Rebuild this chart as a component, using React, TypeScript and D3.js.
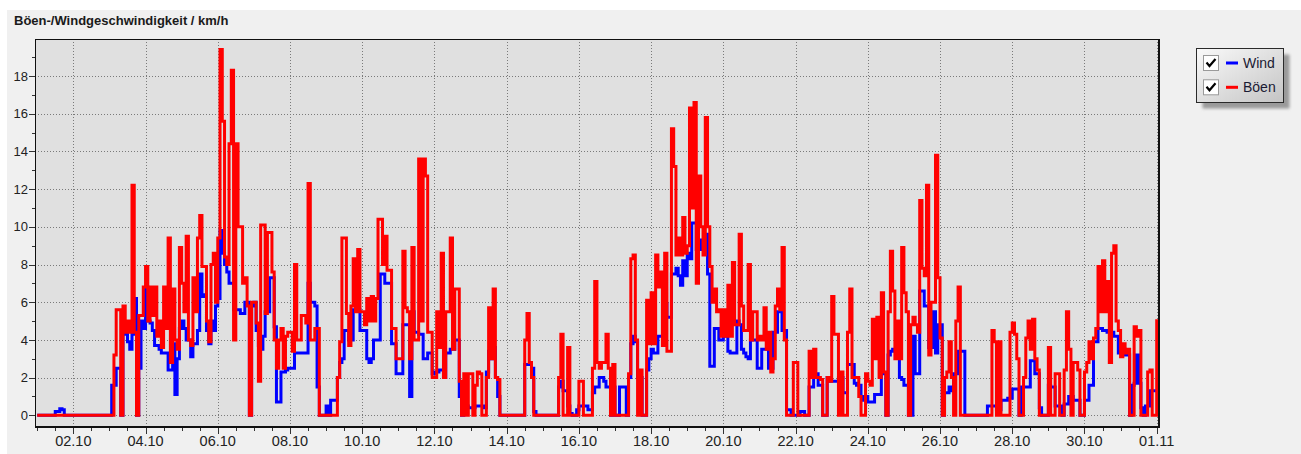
import React, { useRef, useEffect } from "react";
import * as d3 from "d3";

// 90-minute samples from 01.10 00:00, one row per day, km/h
const gust = [
  0, 0, 0, 0, 0, 0, 0, 0, 0, 0, 0, 0, 0, 0, 0, 0,
  0, 0, 0, 0, 0, 0, 0, 0, 0, 0, 0, 0, 0, 0, 0, 0,
  0, 0, 3.2, 5.6, 5.6, 0, 5.8, 4.4, 5, 4.4, 12.2, 4.4, 0, 5.3, 5.3, 6.8,
  7.9, 5, 6.8, 5.3, 6.8, 4.2, 5, 3.6, 6.8, 4.6, 9.4, 2.8, 6.7, 4, 3.5, 8.9,
  7, 5.5, 9.5, 4, 3.7, 7.3, 5.5, 9.4, 10.6, 7.9, 7.9, 5, 3.9, 8, 8.6, 6,
  9.4, 19.4, 15.6, 8.4, 8, 14.4, 18.3, 4, 14.4, 10, 10, 7, 7.3, 5.8, 0, 6,
  6, 4.9, 1.8, 10.1, 10.1, 5.4, 9.7, 9.7, 7.6, 4, 2.5, 4, 4.6, 2.5, 4.2, 4.4,
  4.4, 3.4, 8, 4, 4, 5.3, 5.3, 4.9, 12.3, 4, 4, 4.6, 4.6, 0, 0, 0,
  0, 0, 0, 0, 0, 2, 3.9, 9.4, 9.4, 5.4, 3.7, 5.8, 8.3, 5.5, 8.8, 5.5,
  5.5, 4.8, 6.2, 5, 6.3, 5, 6.2, 10.4, 10.4, 8, 9.5, 7.7, 7.7, 4.6, 4.6, 3,
  3, 3, 8.7, 5.7, 5.5, 3, 8.9, 4, 4, 13.6, 5, 13.6, 12.7, 4.4, 4.4, 2,
  2, 5.5, 3.6, 8.6, 2, 5.5, 5.5, 9.4, 3.5, 6.7, 6.7, 1.8, 0, 2.2, 0, 2.2,
  2.2, 0, 1.6, 2.3, 2.2, 0, 0, 2, 5.7, 3, 6.7, 2, 1.9, 0, 0, 0,
  0, 0, 0, 0, 0, 0, 0, 0, 4, 5.4, 2.8, 2, 0, 0, 0, 0,
  0, 0, 0, 0, 0, 0, 0, 2, 4.3, 0, 0, 3.6, 0, 0, 0, 0,
  1.8, 1.8, 0, 0, 0, 0, 2.5, 7.1, 2.8, 2.5, 2.8, 2.8, 4.3, 2.5, 0, 2.7,
  0, 0, 0, 0, 0, 0, 2.2, 8.3, 8.5, 4, 0, 2.4, 0, 0, 6.1, 3.8,
  6.5, 3.8, 8.5, 6.8, 7.6, 3.7, 8.6, 3.4, 3.4, 15.2, 13.2, 8.5, 9.4, 8.5, 10.5, 8.6,
  9, 16.3, 11, 16.6, 7, 12.7, 10, 8.5, 15.8, 10, 7.9, 6, 6.7, 5.5, 5.6, 4.2,
  5.6, 4.2, 6.9, 4.2, 8.1, 4.8, 4.8, 9.6, 5.8, 4.5, 4.5, 8, 4, 5.5, 5.5, 4,
  4.2, 4, 5.7, 3.5, 4.4, 2.3, 3, 5.8, 6.7, 5.6, 8.9, 4, 0, 0, 0, 2.8,
  2.8, 0, 0, 0, 0, 0, 3.4, 2, 3.5, 2, 2, 1.9, 0, 0, 2, 1.8,
  6.3, 4.3, 4.3, 0, 2.3, 0, 0, 4.4, 6.7, 2, 2, 2, 1, 0, 0, 2.2,
  1.8, 1.6, 5.1, 3, 5.2, 2, 6.5, 2.3, 0, 5.5, 8.7, 6.6, 3, 5, 3, 8.9,
  6.5, 5.5, 0, 4.8, 5.2, 4.8, 4.4, 11.4, 7.8, 7.4, 12.2, 3.2, 6, 6, 13.8, 7.3,
  4.1, 0, 2, 2.3, 3.9, 2, 0, 5, 6.8, 0, 0, 0, 0, 0, 0, 0,
  0, 0, 0, 0, 0, 0, 0, 4.5, 3.9, 0, 3.9, 0, 0, 0, 0, 4.4,
  4.9, 4.3, 3, 0, 0, 2, 4.1, 5, 3.5, 5.1, 3, 2.4, 0, 0, 0, 0,
  3.6, 0, 0, 2.2, 2.2, 0, 0, 2.4, 5.5, 3.5, 0, 2.8, 2.8, 2.4, 0, 0,
  2.3, 2.8, 3.9, 3, 4.1, 4.6, 7.9, 5.5, 8.2, 5.5, 7.1, 2.8, 8.6, 9, 5, 4.5,
  3.1, 3.8, 3.3, 3.5, 0, 0, 4.7, 4.2, 4.5, 0, 0, 0, 2.3, 2.4, 0, 0,
  5.1,
];

const wind = [
  0, 0, 0, 0, 0, 0, 0, 0, 0.2, 0.2, 0.35, 0.3, 0, 0, 0, 0,
  0, 0, 0, 0, 0, 0, 0, 0, 0, 0, 0, 0, 0, 0, 0, 0,
  0, 1.6, 1.6, 2.5, 2.5, 0, 4.5, 4.3, 3.9, 3.5, 4.3, 6.2, 0, 2.5, 5, 4.6,
  6.8, 5, 4.9, 4.5, 3.7, 3.7, 3.5, 3.3, 3.3, 3.3, 2.4, 2.4, 3.8, 1.1, 3, 4.6,
  5, 4.6, 4, 4, 3.1, 3.8, 3.8, 4.5, 7.5, 6.3, 6.4, 4.5, 3.8, 5, 4.5, 5.8,
  6.2, 9.8, 8.6, 8, 7.6, 7, 7, 5.6, 5.6, 5.6, 5.4, 5.4, 6, 6, 0, 5.8,
  6, 4.5, 3.7, 3.5, 4.2, 5.5, 5.5, 7.3, 7.3, 4.7, 0.7, 0.7, 2.3, 2.3, 2.4, 2.5,
  2.5, 2.5, 3.3, 3.3, 3.3, 3.3, 3.3, 3.3, 7, 6, 6, 5.8, 1.5, 0, 0, 0,
  0.5, 0, 0.8, 0.8, 0.8, 2, 2.8, 3, 4.5, 4.5, 4, 4, 5.6, 5.6, 5.6, 4.5,
  4.5, 4.5, 3, 2.8, 3, 4, 4, 4, 7.5, 7.5, 7, 7, 7, 3.8, 3.8, 2.2,
  2.2, 2.2, 4.8, 4.8, 4.8, 1, 5.5, 4.4, 4.4, 4.3, 4.3, 3, 3, 3.3, 3.3, 2.2,
  2.3, 2.3, 2.4, 2.4, 2, 3.3, 3.3, 3.5, 3.5, 4, 4, 1, 0, 0.5, 0.5, 0.4,
  0.4, 0.4, 0.5, 0.5, 0.5, 0.5, 0.4, 2.3, 3.4, 3, 3.6, 2, 1, 0, 0, 0,
  0, 0, 0, 0, 0, 0, 0, 0, 2.7, 2.7, 2.7, 2.5, 0.2, 0, 0, 0,
  0, 0, 0, 0, 0, 0, 0, 1.5, 1.8, 1.3, 1.3, 0.5, 0.1, 0, 0, 0.3,
  0.5, 0.5, 0.5, 0.5, 0.3, 0.3, 1.2, 1.5, 1.5, 2, 2, 1.8, 1.5, 1.5, 0, 1.5,
  0, 0, 1.5, 1.5, 1.5, 0, 2, 3.8, 4.2, 3.9, 2, 2, 0, 0, 2.4, 3,
  3.5, 3.3, 3.3, 4.2, 4.2, 4.2, 5.9, 5.2, 5.2, 7.5, 7.5, 7.8, 7.4, 6.9, 8.2, 7.4,
  8.6, 8.3, 10.2, 10.2, 8.8, 8.8, 9.3, 9.3, 9.6, 7.5, 2.6, 2.6, 4.6, 4.6, 4, 4,
  4.2, 4.2, 3.4, 3.3, 3.3, 3.3, 5, 4.8, 3.5, 3.3, 3.1, 3, 4, 4, 4, 2.5,
  2.5, 3.5, 3.5, 3.5, 2.5, 2.5, 4.4, 4.4, 5.5, 5.5, 4.5, 4.5, 0.3, 0.3, 0, 0,
  0, 0, 0.2, 0.2, 0, 0, 1.5, 1.5, 2.2, 2.2, 1.6, 1.6, 0, 0, 2, 1.8,
  1.8, 1.8, 1.8, 2, 2, 1.2, 1.2, 2.7, 2.7, 2.7, 1.7, 1.6, 1.6, 1, 0.8, 1,
  0.7, 0.7, 0.7, 1.1, 1.1, 1.1, 2.3, 2.2, 0, 3.2, 3.4, 3.5, 3.5, 3.5, 2, 1.9,
  1.6, 1.6, 0, 0, 4.2, 2.2, 2.2, 6.6, 6.6, 5.8, 5.8, 3.6, 3.6, 5.5, 3.3, 4.8,
  4.8, 0, 1.2, 1.2, 1.5, 1.3, 2.2, 2.2, 3.4, 3.4, 3.4, 0, 0, 0, 0, 0,
  0, 0, 0, 0, 0, 0.5, 0.5, 0.5, 0.5, 0.3, 0.3, 0.8, 0.8, 0.8, 0.9, 0.9,
  1.4, 1.4, 1.4, 0, 1.5, 1.5, 1.5, 1.5, 2.9, 2.9, 2.2, 2.2, 0.4, 0, 0, 0,
  1.6, 1.5, 1.5, 0.5, 0.5, 0.5, 0, 0.6, 0.6, 1, 1, 0.8, 0.8, 0.8, 0, 0,
  0.8, 0.8, 1.6, 1.6, 3.9, 3.9, 4.6, 4.6, 4.5, 4.5, 4.4, 4.4, 4.4, 4.2, 4.2, 3.3,
  3.3, 3.5, 3.2, 3.2, 0, 1.6, 1.7, 3.2, 1.7, 0.4, 0, 0.5, 0.5, 1.3, 1.3, 1.3,
  1.3,
];

const seriesNames = ["Wind", "Böen"];
const seriesColors = ["#0000ff", "#ff0000"];
const yTicks = [0, 2, 4, 6, 8, 10, 12, 14, 16, 18];
const title = "Böen-/Windgeschwindigkeit / km/h";

const W = 1301;
const H = 454;
const font = "'Liberation Sans', Arial, sans-serif";

const App = () => {
  const svgRef = useRef(null);

  useEffect(() => {
    const svg = d3.select(svgRef.current);
    svg.selectAll("*").remove();

    const t0 = new Date(Date.UTC(2021, 9, 1));
    const t1 = new Date(Date.UTC(2021, 10, 1));
    const step = 90 * 60 * 1000;
    const times = gust.map((_, i) => new Date(t0.getTime() + i * step));

    // plot frame
    const left = 35, right = 1159, top = 39, bottom = 427;

    const x = d3.scaleUtc().domain([t0, t1]).range([37.2, 1156.7]);
    const y = d3.scaleLinear().domain([0, 18]).range([415.3, 76]);

    svg.append("rect").attr("width", W).attr("height", H).attr("fill", "#ffffff");
    svg.append("rect").attr("x", 7).attr("y", 10).attr("width", W - 7).attr("height", H - 10).attr("fill", "#f0f0f0");

    svg.append("text")
      .attr("x", 14).attr("y", 25)
      .attr("font-family", font).attr("font-size", 13).attr("font-weight", "bold")
      .attr("fill", "#1a1a1a")
      .text(title);

    svg.append("rect")
      .attr("x", left).attr("y", top)
      .attr("width", right - left).attr("height", bottom - top)
      .attr("fill", "#e0e0e0");

    //grid
    const majorX = d3.range(16).map(k => d3.utcDay.offset(new Date(Date.UTC(2021, 9, 2)), 2 * k));
    const grid = svg.append("g").attr("stroke", "#7a7a7a").attr("stroke-width", 1).attr("stroke-dasharray", "1 2");
    grid.selectAll("line.v").data(majorX).enter().append("line")
      .attr("class", "v")
      .attr("x1", d => Math.round(x(d)) + 0.5).attr("x2", d => Math.round(x(d)) + 0.5)
      .attr("y1", top).attr("y2", bottom);
    grid.selectAll("line.h").data(yTicks).enter().append("line")
      .attr("class", "h")
      .attr("x1", left).attr("x2", right)
      .attr("y1", d => Math.round(y(d)) + 0.5).attr("y2", d => Math.round(y(d)) + 0.5);

    // series
    svg.append("clipPath").attr("id", "plotclip")
      .append("rect").attr("x", left + 1).attr("y", top + 1)
      .attr("width", right - left - 2).attr("height", bottom - top - 2);

    const line = d3.line().curve(d3.curveStepAfter)
      .x((d) => x(d[0])).y((d) => y(d[1]));

    [wind, gust].forEach((vals, i) => {
      svg.append("path")
        .datum(vals.map((v, j) => [times[j], v]))
        .attr("clip-path", "url(#plotclip)")
        .attr("fill", "none")
        .attr("stroke", seriesColors[i])
        .attr("stroke-width", 3)
        .attr("stroke-linejoin", "miter")
        .attr("d", line);
    });

    // frame
    const frame = svg.append("g").attr("stroke", "#101010");
    frame.append("line").attr("x1", left + 0.5).attr("x2", left + 0.5).attr("y1", top).attr("y2", bottom + 1);
    frame.append("line").attr("x1", left).attr("x2", right + 1).attr("y1", top + 0.5).attr("y2", top + 0.5);
    frame.append("line").attr("x1", right).attr("x2", right).attr("y1", top).attr("y2", bottom + 1).attr("stroke-width", 2);
    frame.append("line").attr("x1", left).attr("x2", right + 1).attr("y1", bottom).attr("y2", bottom).attr("stroke-width", 2);

    // y axis ticks
    const yAxis = svg.append("g").attr("stroke", "#333");
    yAxis.selectAll("line.minor").data(d3.range(0, 20, 1)).enter().append("line")
      .attr("class", "minor")
      .attr("x1", left - 3).attr("x2", left)
      .attr("y1", d => Math.round(y(d)) + 0.5).attr("y2", d => Math.round(y(d)) + 0.5);
    yAxis.selectAll("line.major").data(yTicks).enter().append("line")
      .attr("class", "major")
      .attr("x1", left - 6).attr("x2", left)
      .attr("y1", d => Math.round(y(d)) + 0.5).attr("y2", d => Math.round(y(d)) + 0.5);
    svg.append("g").selectAll("text").data(yTicks).enter().append("text")
      .attr("x", 28).attr("y", d => y(d)).attr("dy", "0.36em")
      .attr("text-anchor", "end")
      .attr("font-family", font).attr("font-size", 13).attr("fill", "#222")
      .text(d => d);

    // x axis ticks
    const minorX = d3.utcHour.every(12).range(t0, d3.utcHour.offset(t1, 1));
    const xAxis = svg.append("g").attr("stroke", "#333");
    xAxis.selectAll("line.minor").data(minorX).enter().append("line")
      .attr("class", "minor")
      .attr("x1", d => Math.round(x(d)) + 0.5).attr("x2", d => Math.round(x(d)) + 0.5)
      .attr("y1", bottom + 1).attr("y2", bottom + 4);
    xAxis.selectAll("line.major").data(majorX).enter().append("line")
      .attr("class", "major")
      .attr("x1", d => Math.round(x(d)) + 0.5).attr("x2", d => Math.round(x(d)) + 0.5)
      .attr("y1", bottom + 1).attr("y2", bottom + 7);
    const fmt = d3.utcFormat("%d.%m");
    svg.append("g").selectAll("text").data(majorX).enter().append("text")
      .attr("x", d => x(d)).attr("y", 446)
      .attr("text-anchor", "middle")
      .attr("font-family", font).attr("font-size", 14.5).attr("fill", "#222")
      .text(d => fmt(d));

    // legend
    const defs = svg.append("defs");
    const grad = defs.append("linearGradient").attr("id", "leggrad")
      .attr("x1", "0").attr("y1", "0").attr("x2", "1").attr("y2", "1");
    grad.append("stop").attr("offset", "0").attr("stop-color", "#fafafa");
    grad.append("stop").attr("offset", "1").attr("stop-color", "#c4c4c4");
    const blur = defs.append("filter").attr("id", "legshadow");
    blur.append("feGaussianBlur").attr("stdDeviation", 1.5);

    const lx = 1196.5, ly = 48.5, lw = 87, lh = 54;
    svg.append("rect").attr("x", lx + 6).attr("y", ly + 6).attr("width", lw).attr("height", lh)
      .attr("fill", "#9a9a9a").attr("filter", "url(#legshadow)");
    svg.append("rect").attr("x", lx).attr("y", ly).attr("width", lw).attr("height", lh)
      .attr("fill", "url(#leggrad)").attr("stroke", "#2a2a2a");

    seriesNames.forEach((name, i) => {
      const cy = 63 + i * 24.3;
      const g = svg.append("g");
      g.append("rect").attr("x", 1203.5).attr("y", cy - 7.5).attr("width", 15).attr("height", 15)
        .attr("fill", "#ffffff").attr("stroke", "#9a9a9a");
      g.append("path")
        .attr("d", `M1206.5,${cy - 0.5} L1209.5,${cy + 3} L1215.5,${cy - 4}`)
        .attr("fill", "none").attr("stroke", "#000").attr("stroke-width", 2.2);
      g.append("line").attr("x1", 1226).attr("x2", 1238).attr("y1", cy).attr("y2", cy)
        .attr("stroke", seriesColors[i]).attr("stroke-width", 3);
      g.append("text").attr("x", 1243).attr("y", cy).attr("dy", "0.36em")
        .attr("font-family", font).attr("font-size", 14).attr("fill", "#1a1a33")
        .text(name);
    });
  }, []);

  return (
    <svg ref={svgRef} width={W} height={H} style={{ position: "absolute", left: 0, top: 0, display: "block" }}>
    </svg>
  );
};

export default App;
